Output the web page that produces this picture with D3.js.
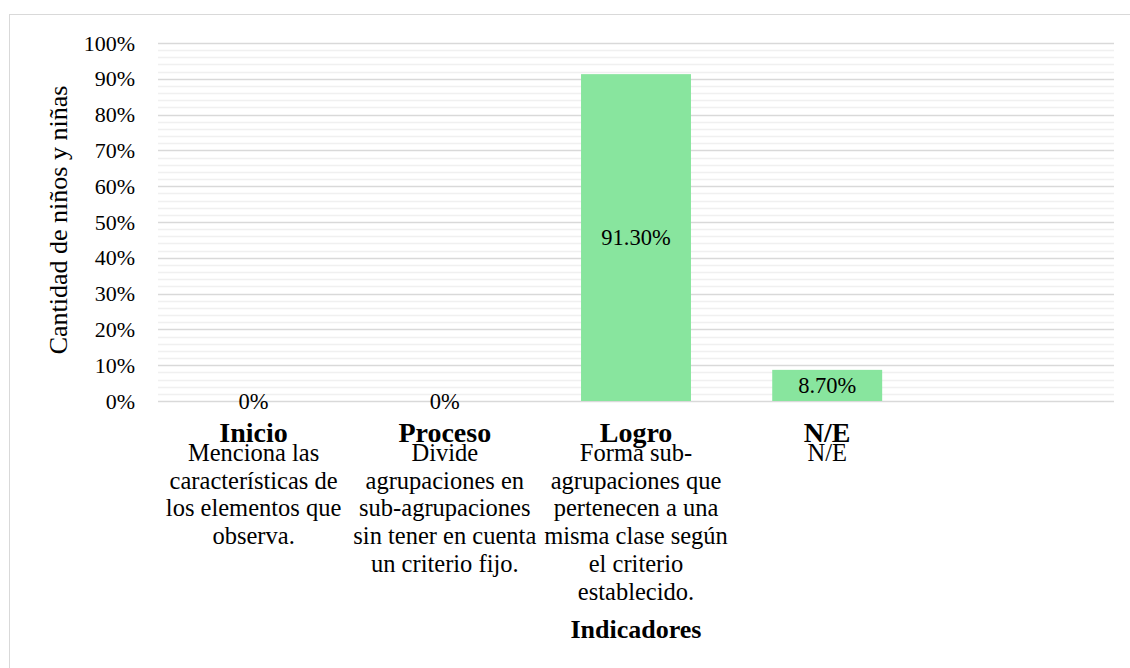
<!DOCTYPE html>
<html>
<head>
<meta charset="utf-8">
<script src="https://cdn.jsdelivr.net/npm/d3@7"></script>
<style>
  body { margin: 0; background: #fff; }
</style>
</head>
<body>
<div id="chart"></div>
<script>
// ----- data -----
const categories = ["Inicio", "Proceso", "Logro", "N/E", ""];
const descriptions = [
    ["Menciona las", "características de", "los elementos que", "observa."],
    ["Divide", "agrupaciones en", "sub-agrupaciones", "sin tener en cuenta", "un criterio fijo."],
    ["Forma sub-", "agrupaciones que", "pertenecen a una", "misma clase según", "el criterio", "establecido."],
    ["N/E"],
    []
];
const values = [0, 0, 91.3, 8.7, null];
const valueLabels = ["0%", "0%", "91.30%", "8.70%", ""];
const yTicks = [0, 10, 20, 30, 40, 50, 60, 70, 80, 90, 100];

const FONT = "'Liberation Serif', 'Times New Roman', 'DejaVu Serif', serif";

const width = 1130, height = 668;
const margin = { top: 43, right: 16, bottom: 267, left: 158 };
const w = width - margin.left - margin.right;
const h = height - margin.top - margin.bottom;

const svg = d3.select("#chart")
    .append("svg")
    .attr("width", width)
    .attr("height", height)
    .style("font-family", FONT);

// outer chart border (only top/left visible in frame)
svg.append("rect")
    .attr("x", 9.5).attr("y", 14.5)
    .attr("width", 1130).attr("height", 700)
    .attr("fill", "none")
    .attr("stroke", "#d9d9d9");

const g = svg.append("g")
    .attr("transform", `translate(${margin.left},${margin.top})`);

const x = d3.scaleBand().domain(d3.range(categories.length)).range([0, w]).paddingInner(0.425).paddingOuter(0.2125);
const y = d3.scaleLinear().domain([0, 100]).range([h, 0]);

// minor gridlines
g.append("g")
    .selectAll("line")
    .data(d3.range(2, 100, 2).filter(v => v % 10 !== 0))
    .enter().append("line")
    .attr("x1", 0).attr("x2", w)
    .attr("y1", d => Math.round(y(d)) + 0.5)
    .attr("y2", d => Math.round(y(d)) + 0.5)
    .style("stroke", "#f0f0f0")
    .style("stroke-width", 1.3);

// major gridlines
g.append("g")
    .selectAll("line")
    .data(yTicks)
    .enter().append("line")
    .attr("x1", 0).attr("x2", w)
    .attr("y1", d => Math.round(y(d)) + 0.5)
    .attr("y2", d => Math.round(y(d)) + 0.5)
    .style("stroke", "#d9d9d9")
    .style("stroke-width", 1.3);

// y axis labels
const yAxis = g.append("g")
    .call(d3.axisLeft(y).tickValues(yTicks).tickFormat(d => d + "%").tickSize(0).tickPadding(23));
yAxis.attr("font-family", null).attr("font-size", null);
yAxis.select(".domain").remove();
yAxis.selectAll("text")
    .style("font-size", "22px")
    .style("font-family", FONT)
    .style("fill", "#000");

// bars
g.selectAll(".bar")
    .data(values.map((v, i) => ({ v, i })).filter(d => d.v))
    .enter().append("rect")
    .attr("class", "bar")
    .attr("x", d => x(d.i))
    .attr("width", x.bandwidth())
    .attr("y", d => y(d.v))
    .attr("height", d => y(0) - y(d.v))
    .style("fill", "#88e59e");

// value labels
g.selectAll(".vlabel")
    .data(values.map((v, i) => ({ v, i })).filter(d => d.v !== null))
    .enter().append("text")
    .attr("class", "vlabel")
    .attr("x", d => x(d.i) + x.bandwidth() / 2)
    .attr("y", d => d.v > 0 ? y(d.v / 2) : y(0))
    .attr("dy", "0.35em")
    .attr("text-anchor", "middle")
    .style("font-size", "22.5px")
    .text(d => valueLabels[d.i]);

// category labels
const cat = g.selectAll(".cat")
    .data(categories.map((c, i) => ({ c, i })))
    .enter().append("g")
    .attr("transform", d => `translate(${x(d.i) + x.bandwidth() / 2},0)`);

cat.append("text")
    .attr("y", h + 41)
    .attr("text-anchor", "middle")
    .style("font-size", "28px")
    .style("font-weight", "bold")
    .text(d => d.c);

cat.each(function (d) {
    d3.select(this).selectAll(".desc")
        .data(descriptions[d.i])
        .enter().append("text")
        .attr("y", (t, j) => h + 60 + j * 27.7)
        .attr("text-anchor", "middle")
        .style("font-size", "24.5px")
        .text(t => t);
});

// axis titles
g.append("text")
    .attr("x", x(2) + x.bandwidth() / 2)
    .attr("y", h + 237)
    .attr("text-anchor", "middle")
    .style("font-size", "26px")
    .style("font-weight", "bold")
    .text("Indicadores");

svg.append("text")
    .attr("transform", `translate(67,${margin.top + h / 2 - 2}) rotate(-90)`)
    .attr("text-anchor", "middle")
    .style("font-size", "26px")
    .text("Cantidad de niños y niñas");
</script>
</body>
</html>
